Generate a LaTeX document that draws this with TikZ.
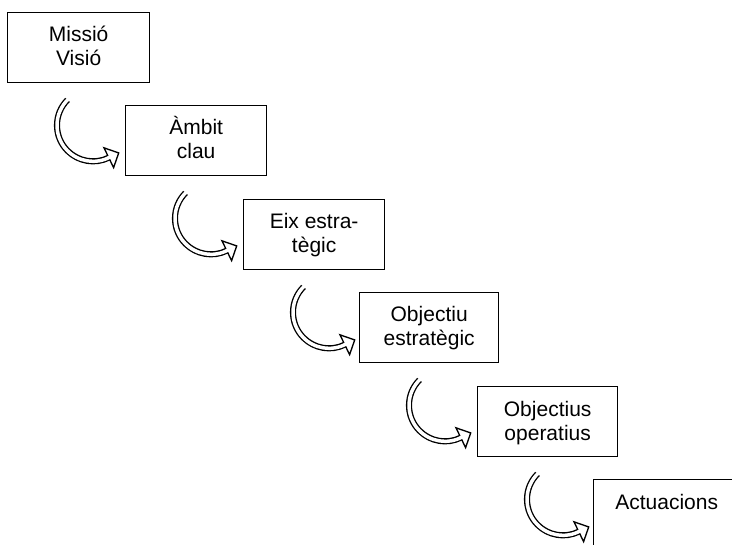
\documentclass[tikz,border=0pt]{standalone}
\usepackage{fontspec}
\setmainfont{Liberation Sans}
\newcommand\bentarrow[1]{%
  \begin{scope}[shift={(#1.south west)}]
    \filldraw[fill=white, line width=1pt, line join=miter]
      (97,64.5) -- (111.7,69.6) -- (106.6,84.3) -- cycle;
    \draw[line width=4.6pt] (86,42) ++(225:36) arc[start angle=225, end angle=64, radius=36];
    \draw[white, line width=2.6pt] (86,42) ++(227:36) arc[start angle=227, end angle=61, radius=36];
  \end{scope}}
\begin{document}
\begin{tikzpicture}[x=0.75pt, y=-0.75pt,
  box/.style={draw, line width=1pt, minimum height=52.5pt, inner sep=0pt, anchor=north west},
  lbl/.style={font=\fontsize{15.75}{18}\selectfont, align=center, anchor=base, inner sep=0pt}]
  \clip (0,0) rectangle (732,545);
  \fill[white] (0,0) rectangle (732,545);
  \node[box, minimum width=106.5pt] (b1) at (7,12) {};
  \node[box, minimum width=105.75pt] (b2) at (125,105) {};
  \node[box, minimum width=105.75pt] (b3) at (243,199) {};
  \node[box, minimum width=104.25pt] (b4) at (359,292) {};
  \node[box, minimum width=105pt] (b5) at (477,386) {};
  \node[box, minimum width=109.5pt] (b6) at (593,479) {};
  \node[lbl] (t1) at ([yshift=-40.5pt]b1.north) {Missió\\Visió};
  \node[lbl] (t2) at ([yshift=-40.5pt]b2.north) {Àmbit\\clau};
  \node[lbl] (t3) at ([yshift=-40.5pt]b3.north) {Eix estra-\\tègic};
  \node[lbl] (t4) at ([yshift=-40.5pt]b4.north) {Objectiu\\estratègic};
  \node[lbl] (t5) at ([yshift=-40.5pt]b5.north) {Objectius\\operatius};
  \node[lbl] (t6) at ([yshift=-22.5pt]b6.north) {Actuacions};
  \bentarrow{b1}
  \bentarrow{b2}
  \bentarrow{b3}
  \bentarrow{b4}
  \bentarrow{b5}
\end{tikzpicture}
\end{document}
